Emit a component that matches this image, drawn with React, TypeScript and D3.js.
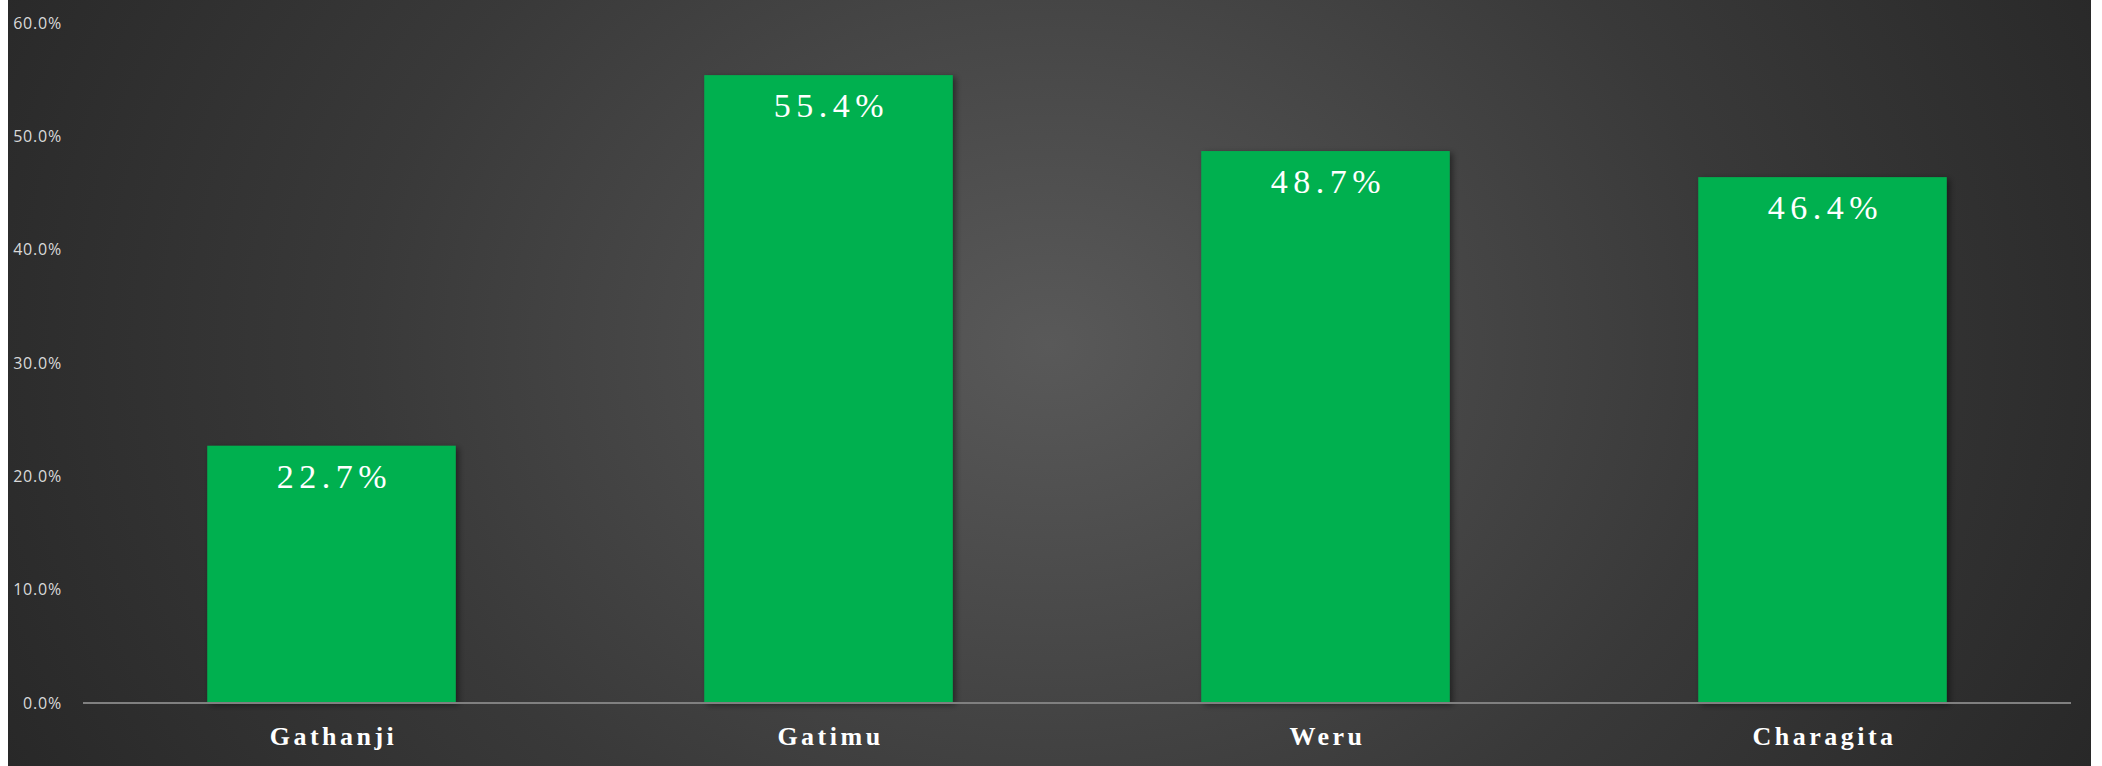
import React from "react";
import * as d3 from "d3";

const categories = ["Gathanji", "Gatimu", "Weru", "Charagita"];
const values = [22.7, 55.4, 48.7, 46.4];
const tickValues = [0, 10, 20, 30, 40, 50, 60];

const W = 2083;
const H = 766;
const plotLeft = 75;
const plotRight = 2063;
const plotTop = 23;
const plotBottom = 703;

export default function App() {
  const x = d3.scaleBand<string>().domain(categories).range([plotLeft, plotRight]).paddingInner(0.5).paddingOuter(0.25);
  const y = d3.scaleLinear().domain([0, 60]).range([plotBottom, plotTop]);
  const fmt = (v: number) => d3.format(".1f")(v) + "%";
  return (
    <svg
      width={W}
      height={H}
      style={{ position: "absolute", left: 8, top: 0, display: "block" }}
    >
      <defs>
        <radialGradient id="bg" cx="50%" cy="45%" r="60%" fx="50%" fy="45%" gradientTransform="translate(0.5,0.45) scale(1,2.2) translate(-0.5,-0.45)">
          <stop offset="0%" stopColor="#595959" />
          <stop offset="55%" stopColor="#393939" />
          <stop offset="100%" stopColor="#252525" />
        </radialGradient>
        <filter id="sh" x="-10%" y="-10%" width="130%" height="130%">
          <feDropShadow dx="3" dy="2" stdDeviation="3" floodColor="#000" floodOpacity="0.45" />
        </filter>
      </defs>
      <rect x={0} y={0} width={W} height={H} fill="url(#bg)" />
      {tickValues.map((t) => (
        <text
          key={t}
          x={54}
          y={y(t)}
          dy="0.35em"
          textAnchor="end"
          fill="#d9d9d9"
          style={{ font: "16px 'Open Sans', sans-serif", letterSpacing: "0.8px" }}
        >
          {fmt(t)}
        </text>
      ))}
      {categories.map((c, i) => (
        <rect
          key={c}
          x={x(c)}
          y={y(values[i])}
          width={x.bandwidth()}
          height={plotBottom - y(values[i])}
          fill="#00b050"
          filter="url(#sh)"
        />
      ))}
      <line x1={plotLeft} x2={plotRight} y1={plotBottom} y2={plotBottom} stroke="#808080" strokeWidth={2} />
      {categories.map((c, i) => (
        <text
          key={c + "v"}
          x={(x(c) as number) + x.bandwidth() / 2 + 3}
          y={y(values[i]) + 42}
          textAnchor="middle"
          fill="#ffffff"
          style={{ font: "34px 'Liberation Serif', serif", letterSpacing: "5.5px" }}
        >
          {fmt(values[i])}
        </text>
      ))}
      {categories.map((c) => (
        <text
          key={c + "l"}
          x={(x(c) as number) + x.bandwidth() / 2 + 2}
          y={745}
          textAnchor="middle"
          fill="#ffffff"
          style={{ font: "bold 26px 'Liberation Serif', serif", letterSpacing: "3.5px" }}
        >
          {c}
        </text>
      ))}
    </svg>
  );
}
